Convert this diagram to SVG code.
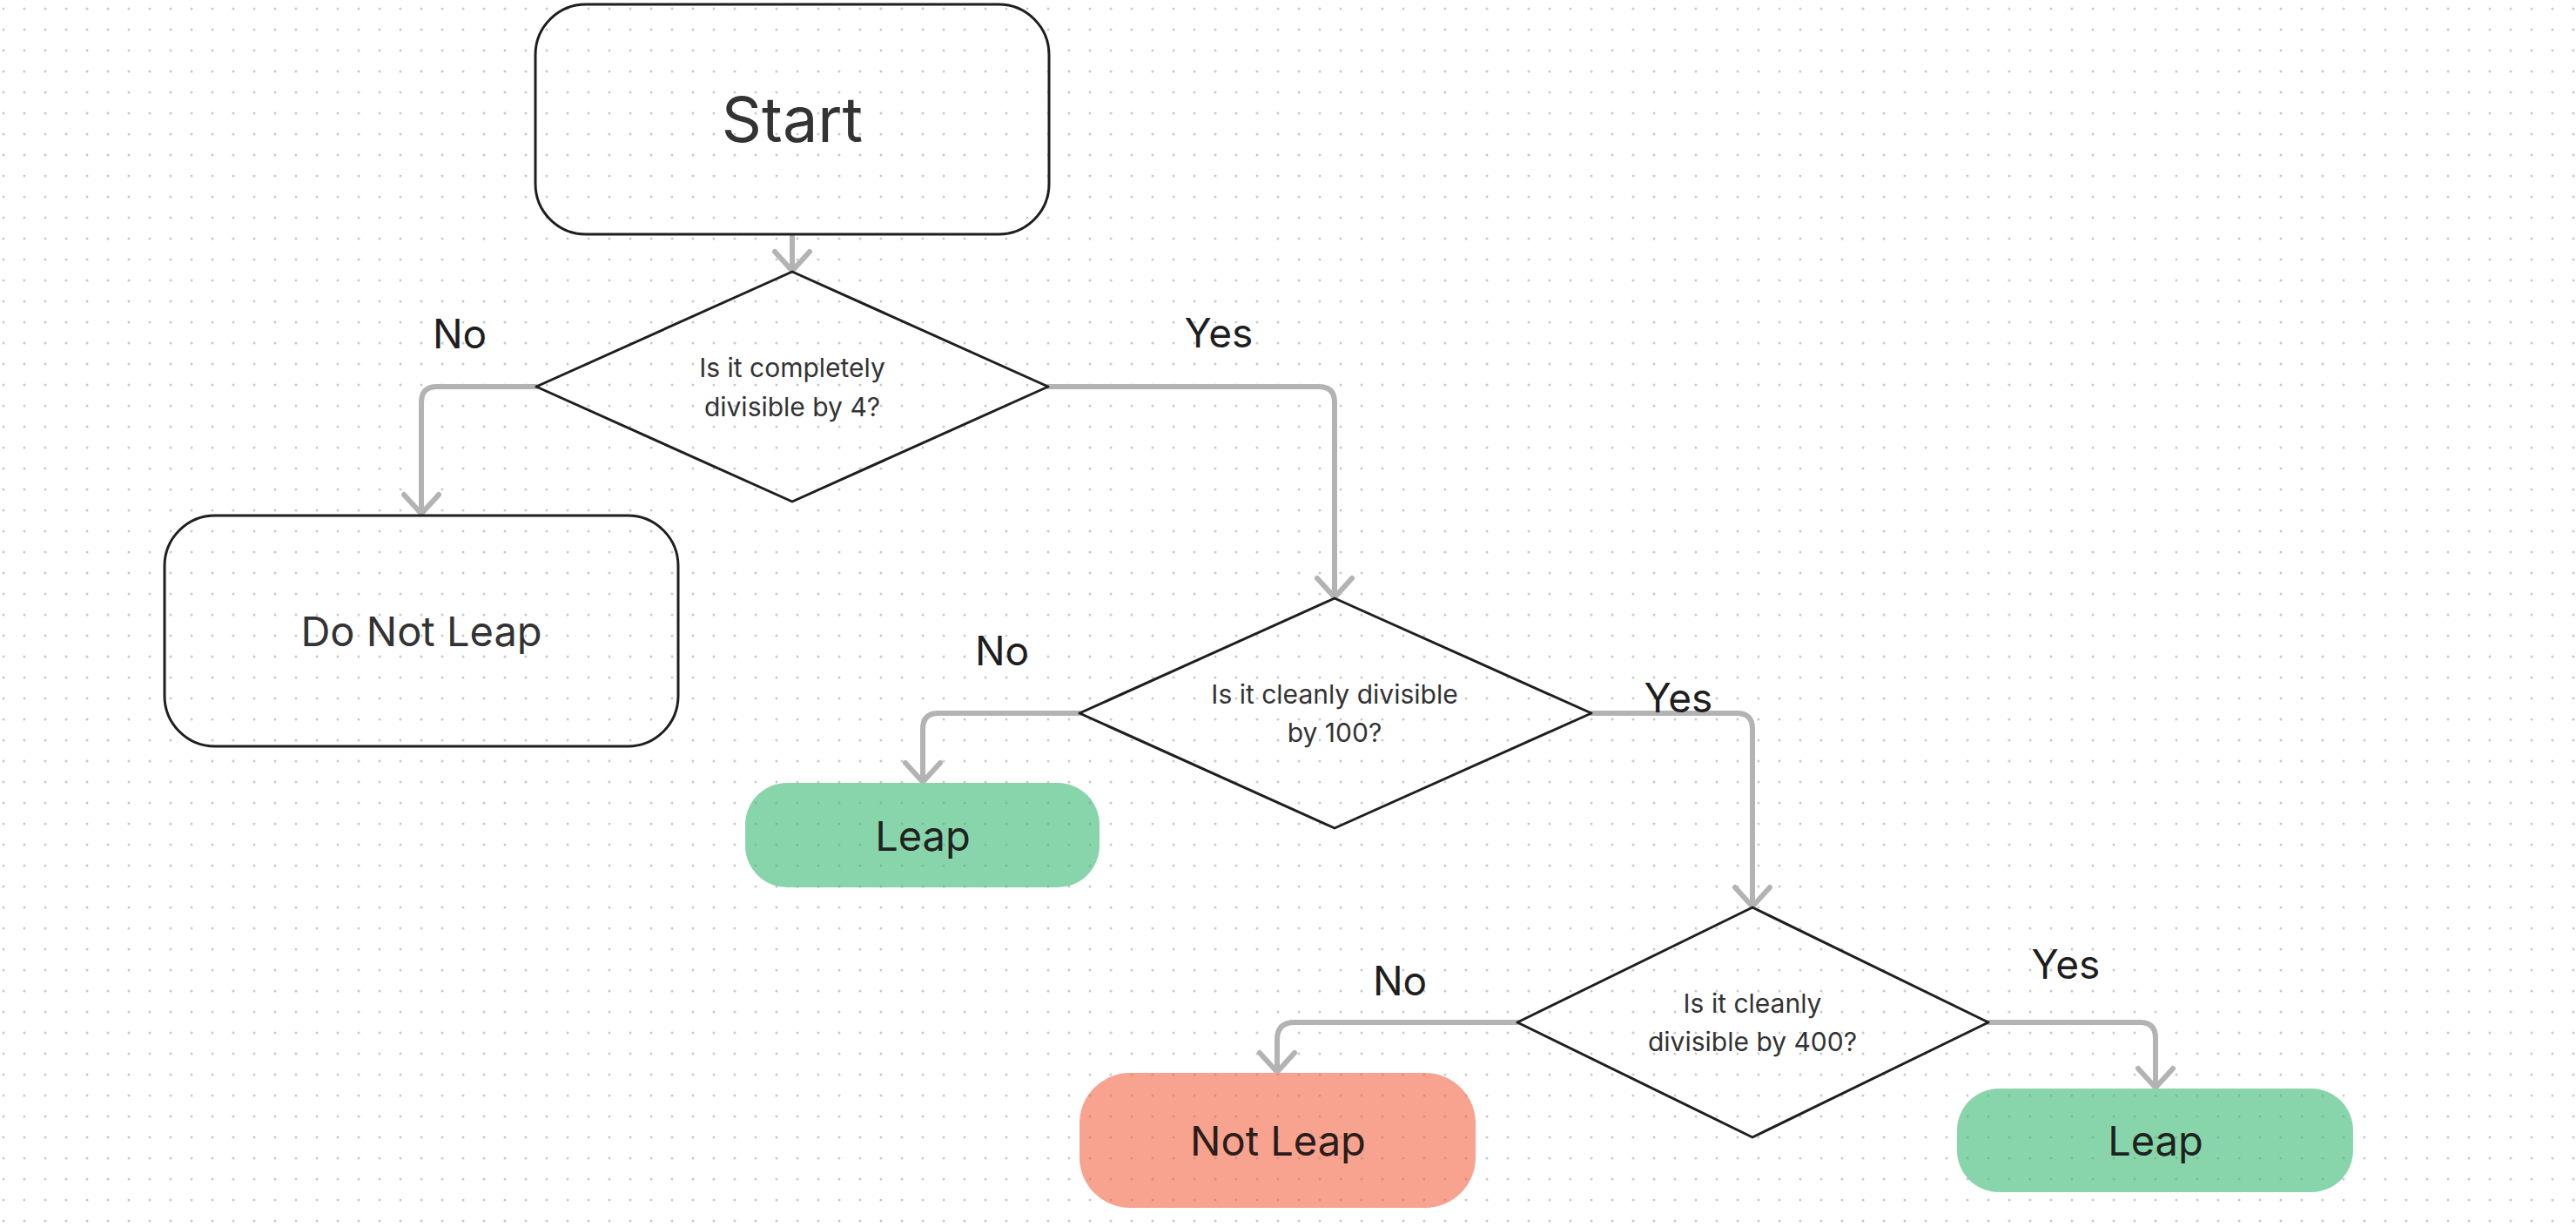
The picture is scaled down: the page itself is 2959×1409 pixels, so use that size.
<svg xmlns="http://www.w3.org/2000/svg" width="2959" height="1409" viewBox="0 0 2959 1409">
<style>
.box{fill:none;stroke:#1e1e1e;stroke-width:3;stroke-linejoin:round}
.conn{fill:none;stroke:#b3b3b3;stroke-width:6;stroke-linecap:round;stroke-linejoin:round}
.t{font-family:Inter,"Noto Sans",sans-serif;text-anchor:middle;fill:#333333}
.big{font-size:72px}
.mid{font-size:47px}
.small{font-size:30px}
.lbl{font-family:Inter,"Noto Sans",sans-serif;text-anchor:middle;font-size:46px;fill:#1e1e1e}
.dark{fill:#1e231f}
</style>
<defs>
<pattern id="dots" patternUnits="userSpaceOnUse" x="0" y="0" width="24" height="24"><circle cx="4" cy="10" r="1.5" fill="#c9c9c9"/></pattern>
<pattern id="green" patternUnits="userSpaceOnUse" x="0" y="0" width="24" height="24"><rect width="24" height="24" fill="#89d5ab"/><circle cx="4" cy="10" r="1.5" fill="#76bd96"/></pattern>
<pattern id="red" patternUnits="userSpaceOnUse" x="0" y="0" width="24" height="24"><rect width="24" height="24" fill="#f7a38f"/><circle cx="4" cy="10" r="1.5" fill="#dc8f7d"/></pattern>
<marker id="arr" markerUnits="userSpaceOnUse" orient="auto" refX="0" refY="0" markerWidth="60" markerHeight="60" overflow="visible">
<path d="M-22,-20 L0,0 L-22,20" fill="none" stroke="#b3b3b3" stroke-width="6" stroke-linecap="round" stroke-linejoin="round"/>
</marker>
</defs>
<rect width="2959" height="1409" fill="#ffffff"/>
<rect width="2959" height="1409" fill="url(#dots)"/>

<g id="connectors">
<path class="conn" d="M910,272 V311" marker-end="url(#arr)"/>
<path class="conn" d="M616,444 H502 Q484,444 484,462 V590" marker-end="url(#arr)"/>
<path class="conn" d="M1204,444 H1515 Q1533,444 1533,462 V686" marker-end="url(#arr)"/>
<path class="conn" d="M1240,819 H1078 Q1060,819 1060,837 V898" marker-end="url(#arr)"/>
<path class="conn" d="M1828,819 H1995 Q2013,819 2013,837 V1041" marker-end="url(#arr)"/>
<path class="conn" d="M1743,1174 H1487 Q1467,1174 1467,1194 V1231" marker-end="url(#arr)"/>
<path class="conn" d="M2284,1174 H2458 Q2476,1174 2476,1192 V1249" marker-end="url(#arr)"/>
</g>

<g id="labels">
<text class="lbl" x="528" y="400">No</text>
<text class="lbl" x="1400" y="399">Yes</text>
<text class="lbl" x="1151" y="764">No</text>
<text class="lbl" x="1928" y="818">Yes</text>
<text class="lbl" x="1608" y="1143">No</text>
<text class="lbl" x="2373" y="1124">Yes</text>
</g>

<g id="start">
<rect class="box" x="615" y="5" width="590" height="264" rx="58"/>
<text class="t big" x="910" y="163">Start</text>
</g>

<g id="q4">
<path class="box" d="M910,312 L1204,444 L910,576 L616,444 Z"/>
<text class="t small" x="910" y="433">Is it completely</text>
<text class="t small" x="910" y="478">divisible by 4?</text>
</g>

<g id="doNotLeap">
<rect class="box" x="189" y="592" width="590" height="265" rx="58"/>
<text class="t mid" x="484" y="742">Do Not Leap</text>
</g>

<g id="q100">
<path class="box" d="M1533,687 L1828,819 L1533,951 L1240,819 Z"/>
<text class="t small" x="1533" y="808">Is it cleanly divisible</text>
<text class="t small" x="1533" y="852">by 100?</text>
</g>

<g id="leap1">
<rect x="856" y="899" width="407" height="120" rx="48" fill="url(#green)"/>
<text class="t mid dark" x="1060" y="977">Leap</text>
</g>

<g id="q400">
<path class="box" d="M2013,1042 L2284,1174 L2013,1306 L1743,1174 Z"/>
<text class="t small" x="2013" y="1163">Is it cleanly</text>
<text class="t small" x="2013" y="1207">divisible by 400?</text>
</g>

<g id="notLeap">
<rect x="1240" y="1232" width="455" height="155" rx="58" fill="url(#red)"/>
<text class="t mid" x="1468" y="1327" style="fill:#2a1d1a">Not Leap</text>
</g>

<g id="leap2">
<rect x="2248" y="1250" width="455" height="119" rx="48" fill="url(#green)"/>
<text class="t mid dark" x="2476" y="1327">Leap</text>
</g>
</svg>
